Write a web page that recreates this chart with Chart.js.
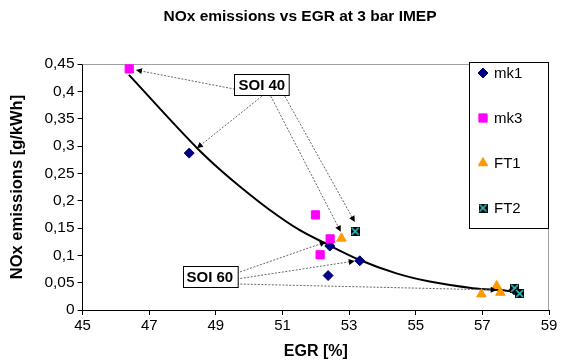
<!DOCTYPE html>
<html>
<head>
<meta charset="utf-8">
<title>NOx emissions vs EGR</title>
<script src="https://cdn.jsdelivr.net/npm/chart.js@4.4.1/dist/chart.umd.min.js"></script>
<style>
  html, body { margin: 0; padding: 0; background: #fff; }
  #wrap { width: 565px; height: 362px; }
</style>
</head>
<body>
<div id="wrap"><canvas id="noxChart" width="565" height="362"></canvas></div>
<script>
// measured points, EGR [%] vs NOx [g/kWh]
const mk1Egr = [48.2, 52.42, 52.37, 53.32, 57.95];
const mk1Nox = [0.287, 0.117, 0.063, 0.090, 0.037];
const mk3Egr = [46.4, 51.99, 52.43, 52.13];
const mk3Nox = [0.441, 0.174, 0.130, 0.101];
const ft1Egr = [52.77, 56.97, 57.43, 57.54];
const ft1Nox = [0.131, 0.029, 0.044, 0.032];
const ft2Egr = [53.18, 57.97, 58.12];
const ft2Nox = [0.144, 0.040, 0.030];

// trend line
const trendEgr = [46.39, 48.44, 49.12, 49.72, 50.62, 51.52, 52.35, 53.32, 54.42, 55.42, 56.71, 57.72, 57.9];
const trendNox = [0.430, 0.296, 0.257, 0.226, 0.183, 0.146, 0.120, 0.0915, 0.067, 0.052, 0.040, 0.0353, 0.034];

// axis ticks
const xTickValues = [45, 47, 49, 51, 53, 55, 57, 59];
const yTickValues = [0, 0.05, 0.1, 0.15, 0.2, 0.25, 0.3, 0.35, 0.4, 0.45];
const yTickLabels = ['0', '0,05', '0,1', '0,15', '0,2', '0,25', '0,3', '0,35', '0,4', '0,45'];

const chartTitle = 'NOx emissions vs EGR at 3 bar IMEP';

// SOI callouts: label position and arrows [from, to] in axis units
const callouts = [
  {
    text: 'SOI 40', at: [50.38, 0.4116],
    arrows: [
      [[49.57, 0.404], [46.60, 0.439]],
      [[50.38, 0.391], [48.43, 0.296]],
      [[50.65, 0.391], [52.75, 0.143]],
      [[51.07, 0.391], [53.17, 0.161]]
    ]
  },
  {
    text: 'SOI 60', at: [48.82, 0.0604],
    arrows: [
      [[49.63, 0.0677], [52.30, 0.1244]],
      [[49.63, 0.0567], [53.17, 0.0896]],
      [[49.63, 0.0476], [57.43, 0.0366]]
    ]
  }
];

function pairs(xs, ys) {
  return xs.map((x, i) => ({ x: x, y: ys[i] }));
}

// black square with cyan cross
function crossBox(size) {
  const c = document.createElement('canvas');
  c.width = size; c.height = size;
  const g = c.getContext('2d');
  g.fillStyle = '#000';
  g.fillRect(0, 0, size, size);
  g.strokeStyle = '#33cccc';
  g.lineWidth = 1.6;
  g.beginPath();
  g.moveTo(1, 1); g.lineTo(size - 1, size - 1);
  g.moveTo(size - 1, 1); g.lineTo(1, size - 1);
  g.stroke();
  return c;
}
const ft2Marker = crossBox(9);

const FONT = "'Liberation Sans', Arial, sans-serif";

const frameAndNotes = {
  id: 'frameAndNotes',
  beforeDatasetsDraw(chart) {
    const { ctx, chartArea: a } = chart;
    ctx.save();
    // title
    ctx.fillStyle = '#000';
    ctx.font = 'bold 15.5px ' + FONT;
    ctx.textAlign = 'center';
    ctx.textBaseline = 'middle';
    ctx.fillText(chartTitle, 300, 17);
    // plot frame, top and right
    ctx.strokeStyle = '#a0a0a0';
    ctx.lineWidth = 1;
    ctx.beginPath();
    ctx.moveTo(a.left, a.top + 0.5);
    ctx.lineTo(a.right - 0.5, a.top + 0.5);
    ctx.lineTo(a.right - 0.5, a.bottom);
    ctx.stroke();
    ctx.restore();
  },
  afterDatasetsDraw(chart) {
    const { ctx, scales: { x, y } } = chart;
    ctx.save();
    // arrows
    callouts.forEach(c => {
      c.arrows.forEach(([from, to]) => {
        const x0 = x.getPixelForValue(from[0]), y0 = y.getPixelForValue(from[1]);
        const x1 = x.getPixelForValue(to[0]), y1 = y.getPixelForValue(to[1]);
        const ang = Math.atan2(y1 - y0, x1 - x0);
        ctx.strokeStyle = '#666';
        ctx.lineWidth = 1;
        ctx.setLineDash([2, 1.5]);
        ctx.beginPath();
        ctx.moveTo(x0, y0);
        ctx.lineTo(x1 - Math.cos(ang) * 4, y1 - Math.sin(ang) * 4);
        ctx.stroke();
        ctx.setLineDash([]);
        ctx.fillStyle = '#000';
        ctx.beginPath();
        ctx.moveTo(x1, y1);
        ctx.lineTo(x1 - Math.cos(ang) * 6 - Math.sin(ang) * 3, y1 - Math.sin(ang) * 6 + Math.cos(ang) * 3);
        ctx.lineTo(x1 - Math.cos(ang) * 6 + Math.sin(ang) * 3, y1 - Math.sin(ang) * 6 - Math.cos(ang) * 3);
        ctx.closePath();
        ctx.fill();
      });
    });
    // labels
    ctx.font = 'bold 15px ' + FONT;
    ctx.textAlign = 'center';
    ctx.textBaseline = 'middle';
    callouts.forEach(c => {
      const cx = x.getPixelForValue(c.at[0]), cy = y.getPixelForValue(c.at[1]);
      const w = ctx.measureText(c.text).width + 8, h = 21;
      const bx = Math.round(cx - w / 2) + 0.5, by = Math.round(cy - h / 2) + 0.5;
      ctx.fillStyle = '#fff';
      ctx.fillRect(bx, by, w, h);
      ctx.strokeStyle = '#000';
      ctx.lineWidth = 1;
      ctx.strokeRect(bx, by, w, h);
      ctx.fillStyle = '#000';
      ctx.fillText(c.text, cx, cy + 1);
    });
    ctx.restore();
  },
  afterDraw(chart) {
    // legend box in the upper right of the plot
    const { ctx, chartArea: a } = chart;
    const boxL = a.right - 80, boxT = a.top - 2, boxW = 80, boxH = 167;
    ctx.save();
    ctx.fillStyle = '#fff';
    ctx.fillRect(boxL, boxT, boxW, boxH);
    ctx.strokeStyle = '#000';
    ctx.lineWidth = 1;
    ctx.strokeRect(boxL + 0.5, boxT + 0.5, boxW - 1, boxH - 1);
    ctx.font = '15px ' + FONT;
    ctx.textBaseline = 'middle';
    ctx.textAlign = 'left';
    const items = chart.data.datasets.filter(d => !d.isTrend);
    items.forEach((d, i) => {
      const ly = boxT + 11 + i * 45;
      ctx.fillStyle = d.backgroundColor;
      ctx.strokeStyle = d.borderColor;
      Chart.helpers.drawPoint(ctx, {
        pointStyle: d.pointStyle, radius: d.pointRadius, rotation: 0, borderWidth: 1
      }, boxL + 14, ly);
      ctx.fillStyle = '#000';
      ctx.fillText(d.label, boxL + 25, ly + 1);
    });
    ctx.restore();
  }
};

const chart = new Chart(document.getElementById('noxChart'), {
  type: 'scatter',
  data: {
    datasets: [
      {
        label: 'trend', isTrend: true, type: 'line',
        data: pairs(trendEgr, trendNox),
        borderColor: '#000', borderWidth: 2, pointRadius: 0,
        cubicInterpolationMode: 'monotone', fill: false, order: 5
      },
      {
        label: 'mk1', data: pairs(mk1Egr, mk1Nox),
        pointStyle: 'rectRot', pointRadius: 5, backgroundColor: '#000080', borderColor: '#000080',
        borderWidth: 1, order: 4
      },
      {
        label: 'mk3', data: pairs(mk3Egr, mk3Nox),
        pointStyle: 'rect', pointRadius: 5.8, backgroundColor: '#ff00ff', borderColor: '#ff00ff',
        borderWidth: 1, order: 3
      },
      {
        label: 'FT1', data: pairs(ft1Egr, ft1Nox),
        pointStyle: 'triangle', pointRadius: 5.5, backgroundColor: '#ff9900', borderColor: '#ff9900',
        borderWidth: 1, order: 2
      },
      {
        label: 'FT2', data: pairs(ft2Egr, ft2Nox),
        pointStyle: ft2Marker, pointRadius: 5, backgroundColor: '#000', borderColor: '#000',
        borderWidth: 1, order: 1
      }
    ]
  },
  options: {
    responsive: false,
    animation: false,
    layout: { padding: { left: 0, right: 16, top: 64, bottom: 0 } },
    plugins: {
      legend: { display: false },
      tooltip: { enabled: false },
      title: { display: false }
    },
    scales: {
      x: {
        type: 'linear', min: 45, max: 59,
        afterBuildTicks: s => { s.ticks = xTickValues.map(v => ({ value: v })); },
        afterFit: s => { s.height = 52; },
        border: { color: '#000', width: 1 },
        grid: { drawOnChartArea: false, color: '#000', tickLength: 5 },
        ticks: { color: '#000', font: { family: FONT, size: 15 }, padding: 2, maxRotation: 0 },
        title: {
          display: true, text: 'EGR [%]', color: '#000',
          font: { family: FONT, size: 16, weight: 'bold' }, padding: { top: 0, bottom: 1 }
        }
      },
      y: {
        type: 'linear', min: 0, max: 0.45,
        afterBuildTicks: s => { s.ticks = yTickValues.map(v => ({ value: v })); },
        afterFit: s => { s.width = 82.6; },
        border: { color: '#000', width: 1 },
        grid: { drawOnChartArea: false, color: '#000', tickLength: 5 },
        ticks: {
          color: '#000', font: { family: FONT, size: 15.5 }, padding: 3,
          callback: (v, i) => yTickLabels[i]
        },
        title: {
          display: true, text: 'NOx emissions [g/kWh]', color: '#000',
          font: { family: FONT, size: 16.5, weight: 'bold' }, padding: { top: 8, bottom: 0 }
        }
      }
    }
  },
  plugins: [frameAndNotes]
});
</script>
</body>
</html>
